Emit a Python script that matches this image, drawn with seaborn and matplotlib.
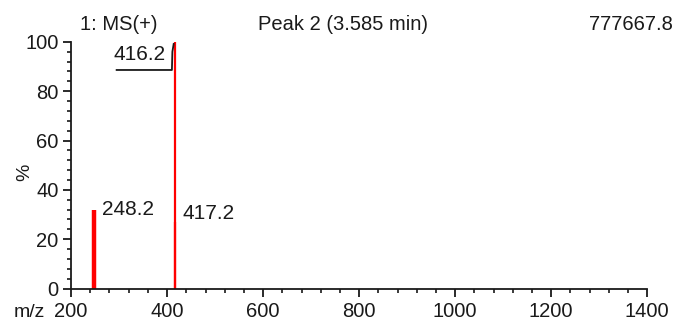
import matplotlib
matplotlib.use("Agg")
import matplotlib.pyplot as plt
from matplotlib.ticker import MultipleLocator
import seaborn as sns

# Centroided spectrum peaks (m/z, relative intensity %)
mz = [248.2, 416.2, 417.2]
intensity = [32.0, 100.0, 27.0]
widths = [3.2, 1.6, 1.6]
peak_labels = ["248.2", "416.2", "417.2"]

x_ticks = [200, 400, 600, 800, 1000, 1200, 1400]
y_ticks = [0, 20, 40, 60, 80, 100]

header_left = "1: MS(+)"
header_mid = "Peak 2 (3.585 min)"
header_right = "777667.8"

sns.set_style("ticks")
plt.rcParams["font.family"] = ["Liberation Sans", "DejaVu Sans"]

fig = plt.figure(figsize=(6.77, 3.22), dpi=100)
ax = fig.add_axes([0.105, 0.104, 0.851, 0.766])

ink = "#1a1a1a"
red = "#ff0000"
for m, h, w in zip(mz, intensity, widths):
    ax.vlines(m, 0, h, color=red, linewidth=w)

ax.set_xlim(200, 1400)
ax.set_ylim(0, 100)
ax.set_xticks(x_ticks)
ax.set_yticks(y_ticks)
ax.xaxis.set_minor_locator(MultipleLocator(40))
ax.yaxis.set_minor_locator(MultipleLocator(4))
ax.tick_params(axis="both", which="major", labelsize=14.5, length=6, width=1.3,
               color=ink, labelcolor=ink)
ax.tick_params(axis="x", which="major", pad=3.5)
ax.tick_params(axis="y", which="major", pad=3)
ax.tick_params(axis="both", which="minor", length=3, width=1.2, color=ink)
for side in ("left", "bottom"):
    ax.spines[side].set_linewidth(1.3)
    ax.spines[side].set_color(ink)
sns.despine(ax=ax)

ax.set_ylabel("%", fontsize=14, color=ink)
ax.yaxis.set_label_coords(-0.066, 0.47)
fig.text(0.043, 0.03, "m/z", fontsize=14, color=ink, va="center", ha="center")

# Peak annotations
ax.text(264, 32, peak_labels[0], fontsize=15, color=ink, va="center", ha="left")
ax.text(433, 30.5, peak_labels[2], fontsize=15, color=ink, va="center", ha="left")
ax.text(288, 95, peak_labels[1], fontsize=15, color=ink, va="center", ha="left")
ax.plot([293, 410, 411, 414], [88.6, 88.6, 96, 99.5], color=ink, linewidth=1.3,
        solid_capstyle="butt")

# Header line
fig.text(0.176, 0.925, header_left, fontsize=14.5, color=ink, ha="center", va="center")
fig.text(0.507, 0.925, header_mid, fontsize=14.5, color=ink, ha="center", va="center")
fig.text(0.994, 0.925, header_right, fontsize=14.5, color=ink, ha="right", va="center")

fig.savefig("out.png", dpi=100)
